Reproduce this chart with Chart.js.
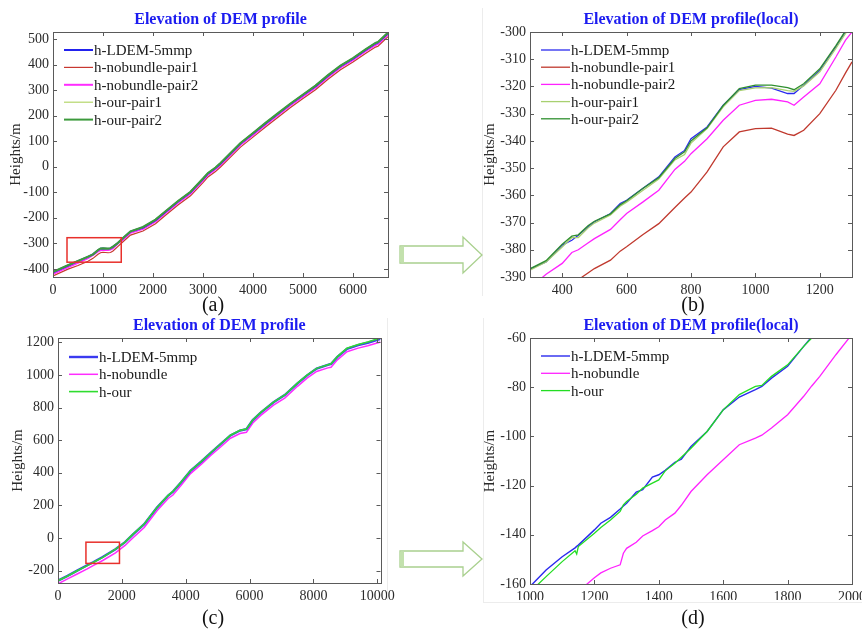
<!DOCTYPE html>
<html>
<head>
<meta charset="utf-8">
<script src="https://cdn.jsdelivr.net/npm/chart.js@4.4.1/dist/chart.umd.min.js"></script>
<style>
  body { margin: 0; width: 862px; height: 629px; overflow: hidden; background: #fff; position: relative;
         font-family: "Liberation Serif", "Times New Roman", serif; }
  canvas { position: absolute; }
  .lab { position: absolute; font-size: 20px; color: #111; transform: translate(-50%, -50%); }
  .edge { position: absolute; background: #ececec; }
</style>
</head>
<body>
<canvas id="chartA" width="400" height="300" style="left:0;top:0"></canvas>
<canvas id="chartB" width="400" height="300" style="left:470px;top:0"></canvas>
<canvas id="chartC" width="400" height="300" style="left:0;top:300px"></canvas>
<canvas id="chartD" width="410" height="300" style="left:470px;top:300px"></canvas>

<div class="edge" style="left:482px;top:8px;width:1px;height:288px"></div>
<div class="edge" style="left:483px;top:318px;width:1px;height:284px"></div>
<div class="edge" style="left:483px;top:602px;width:379px;height:1px"></div>
<div class="edge" style="left:387px;top:318px;width:1px;height:282px"></div>

<div class="lab" style="left:213px;top:304px">(a)</div>
<div class="lab" style="left:693px;top:304px">(b)</div>
<div class="lab" style="left:213px;top:617px">(c)</div>
<div class="lab" style="left:693px;top:617px">(d)</div>

<svg width="862" height="629" style="position:absolute;left:0;top:0">
  <polygon points="400,246 463,246 463,237 482,255 463,273 463,263 400,263" fill="#fff" stroke="#a9d08e" stroke-width="1.3"/>
  <rect x="400" y="246.5" width="4" height="16" fill="#c3e1ad"/>
  <polygon points="400,551 463,551 463,542 482,559 463,576 463,567 400,567" fill="#fff" stroke="#a9d08e" stroke-width="1.3"/>
  <rect x="400" y="551.5" width="4" height="15" fill="#c3e1ad"/>
</svg>

<script>
// ---- (a) whole profile, pair data ----
const aX     = [0, 300, 500, 700, 800, 900, 950, 1000, 1100, 1150, 1200, 1300, 1400, 1550, 1800, 2050, 2250, 2500, 2750, 3000, 3100, 3250, 3350, 3550, 3750, 4000, 4250, 4500, 4750, 5000, 5250, 5500, 5750, 6000, 6250, 6450, 6500, 6700];
const aLdem  = [-414, -387, -370, -353, -343, -327, -321, -320, -322, -320, -314, -299, -280, -254, -238, -209, -176, -136, -100, -48, -26, -5, 13, 52, 91, 130, 170, 208, 246, 281, 316, 357, 394, 424, 458, 483, 487, 524];
const aNob1  = [-428, -401, -387, -370, -359, -343, -337, -335, -337, -336, -330, -312, -294, -268, -252, -223, -190, -150, -114, -62, -40, -19, -1, 38, 77, 116, 156, 194, 232, 267, 302, 343, 380, 410, 444, 469, 472, 510];
const aNob2  = [-420, -393, -376, -358, -345, -332, -327, -325, -326, -324, -319, -300, -285, -259, -243, -214, -181, -141, -105, -53, -31, -10, 8, 47, 86, 125, 165, 203, 241, 276, 311, 352, 389, 419, 453, 477, 481, 519];
const aOur1  = [-413, -386, -370, -353, -344, -327, -321, -320.5, -321.5, -320, -314, -299, -280, -254, -237, -208, -175, -135, -99, -47, -25, -4, 14, 53, 92, 131, 171, 209, 247, 282, 317, 358, 395, 425, 459, 484, 488, 525];
const aOur2  = [-412, -386, -369, -352, -343, -326, -320, -319.5, -320.5, -319, -313, -298, -279, -253, -236, -207, -174, -134, -98, -46, -24, -3, 15, 54, 93, 132, 172, 210, 248, 283, 318, 359, 396, 426, 460, 485, 489, 526];
const aXTicks = [0, 1000, 2000, 3000, 4000, 5000, 6000];
const aYTicks = [-400, -300, -200, -100, 0, 100, 200, 300, 400, 500];
const aZoomBox = [280, 1365, -374, -278];

// ---- (b) local part of (a) ----
const bX     = [300, 350, 400, 430, 450, 480, 500, 550, 580, 600, 650, 700, 750, 780, 800, 850, 900, 950, 1000, 1050, 1100, 1120, 1150, 1200, 1250, 1280, 1300];
const bLdem  = [-387, -384.5, -378.3, -376.5, -374.7, -371.6, -369.8, -366.7, -363, -361.8, -357.5, -353.2, -345.9, -343.5, -339.2, -334.9, -326.9, -321.2, -320, -320.6, -322.6, -322.6, -319.6, -314.1, -305.5, -300, -297];
const bNob1  = [-401, -398, -395, -392.5, -391, -388.5, -386.9, -383.8, -380.5, -378.9, -374.5, -370.4, -364.5, -361, -358.8, -351.4, -342.2, -336.7, -335.5, -335.3, -337.5, -338, -336.1, -330, -321.4, -315, -311];
const bNob2  = [-394, -389, -385, -381, -380, -377.5, -375.9, -372.5, -369, -366.7, -362.5, -358.1, -350.5, -347.5, -344.7, -339.2, -332.4, -326.9, -325.1, -324.7, -325.7, -326.9, -323.9, -319, -309.2, -303, -300];
const bOur1  = [-387.5, -384.5, -379, -375.5, -375.5, -372, -370.2, -367.2, -364, -362.5, -358.2, -354, -347, -345, -340.8, -335.5, -327.5, -321.5, -320.5, -320.4, -321.5, -321.8, -319.8, -314.6, -306, -300.5, -297.5];
const bOur2  = [-387, -384, -378, -375, -374.5, -371.2, -369.5, -366.8, -363.5, -362, -357.5, -353.5, -346.5, -344, -340, -335.2, -327, -320.8, -319.5, -319.5, -320.4, -321.2, -319, -313.5, -305, -299.5, -296.5];
const bXTicks = [400, 600, 800, 1000, 1200];
const bYTicks = [-390, -380, -370, -360, -350, -340, -330, -320, -310, -300];

// ---- (c) whole profile, single strip ----
const cX     = [0, 300, 600, 900, 1100, 1400, 1800, 2100, 2350, 2700, 3100, 3450, 3600, 3850, 4150, 4500, 4800, 5100, 5400, 5700, 5900, 6100, 6350, 6750, 7100, 7500, 7800, 8100, 8450, 8550, 8750, 9050, 9400, 9700, 10100];
const cLdem  = [-260, -231, -199, -168, -148, -116, -68, -25, 23, 85, 187, 261, 285, 341, 412, 471, 525, 577, 629, 659, 667, 723, 769, 832, 876, 948, 997, 1039, 1061, 1067, 1110, 1160, 1182, 1197, 1221];
const cNob   = [-280, -250, -220, -190, -168, -137, -90, -45, 2, 65, 168, 243, 264, 322, 395, 455, 509, 560, 612, 641, 648, 705, 752, 815, 858, 930, 980, 1021, 1043, 1047, 1092, 1142, 1164, 1178, 1201];
const cOur   = [-261, -232, -200, -170, -149, -118, -67, -24, 24, 86, 188, 262, 286, 342, 413, 472, 526, 578, 630, 660, 668, 724, 770, 833, 877, 949, 998, 1040, 1062, 1068, 1112, 1163, 1186, 1201, 1226];
const cXTicks = [0, 2000, 4000, 6000, 8000, 10000];
const cYTicks = [-200, 0, 200, 400, 600, 800, 1000, 1200];
const cZoomBox = [875, 1925, -155, -25];

// ---- (d) local part of (c) ----
const dX     = [1000, 1010, 1050, 1100, 1140, 1145, 1150, 1200, 1220, 1250, 1280, 1290, 1300, 1330, 1350, 1380, 1400, 1420, 1450, 1470, 1500, 1550, 1600, 1650, 1700, 1720, 1750, 1800, 1850, 1875, 1900, 1950, 2000];
const dLdem  = [-161, -159.7, -154.3, -148.9, -145.3, -144.7, -144.2, -138, -135.3, -132.9, -129.5, -128.3, -127.2, -122.6, -121.7, -116.5, -115.6, -113.8, -110.5, -109.3, -104.1, -98, -89.2, -84, -81, -79.7, -76.3, -71.5, -63.4, -59.5, -56, -48, -40];
const dNob   = [-180, -178.5, -173, -168, -164, -163.5, -163, -157.5, -155.5, -153.6, -152.2, -147.5, -145.5, -143, -140.5, -138.3, -136.7, -134, -131.2, -128, -122.4, -115.6, -109.5, -103.4, -100.7, -99.5, -96.6, -91.2, -83.7, -79.5, -75.6, -66.8, -58.5];
const dOur   = [-163, -162, -157, -150.9, -146.5, -147.8, -144.8, -139.4, -137, -134, -130.5, -127.8, -126.5, -123.5, -121, -119, -117.7, -114, -110.9, -108.5, -104.8, -98, -89.2, -83, -79.7, -79.3, -75.6, -70.9, -63.4, -60, -56.5, -48.5, -40.5];
const dXTicks = [1000, 1200, 1400, 1600, 1800, 2000];
const dYTicks = [-160, -140, -120, -100, -80, -60];

const TEXT = '#2b2b2b';
Chart.defaults.font.family = '"Liberation Serif", "Times New Roman", serif';
Chart.defaults.color = TEXT;

// box, inward ticks, title, legend and zoom box
const deco = {
    id: 'deco',
    afterDraw(chart, args, opts) {
        const ctx = chart.ctx;
        const a = chart.chartArea;
        const xs = chart.scales.x, ys = chart.scales.y;
        ctx.save();
        ctx.strokeStyle = '#5a5a5a';
        ctx.lineWidth = 1;
        ctx.strokeRect(Math.round(a.left) + 0.5, Math.round(a.top) + 0.5, Math.round(a.right - a.left), Math.round(a.bottom - a.top));
        ctx.beginPath();
        xs.ticks.forEach(t => {
            const p = Math.round(xs.getPixelForValue(t.value)) + 0.5;
            ctx.moveTo(p, a.bottom); ctx.lineTo(p, a.bottom - 4);
            ctx.moveTo(p, a.top); ctx.lineTo(p, a.top + 4);
        });
        ys.ticks.forEach(t => {
            const p = Math.round(ys.getPixelForValue(t.value)) + 0.5;
            ctx.moveTo(a.left, p); ctx.lineTo(a.left + 4, p);
            ctx.moveTo(a.right, p); ctx.lineTo(a.right - 4, p);
        });
        ctx.stroke();

        if (opts.box) {
            const [x0, x1, y0, y1] = opts.box;
            const px0 = xs.getPixelForValue(x0), px1 = xs.getPixelForValue(x1);
            const py0 = ys.getPixelForValue(y0), py1 = ys.getPixelForValue(y1);
            ctx.strokeStyle = '#e8302b';
            ctx.lineWidth = 1.5;
            ctx.strokeRect(px0, py1, px1 - px0, py0 - py1);
        }

        // title
        ctx.fillStyle = '#1c1cf0';
        ctx.font = 'bold 16px "Liberation Serif"';
        ctx.textAlign = 'center';
        ctx.textBaseline = 'middle';
        ctx.fillText(opts.title, (a.left + a.right) / 2, a.top - 12);

        // legend
        ctx.font = '15px "Liberation Serif"';
        ctx.textAlign = 'left';
        ctx.fillStyle = '#1a1a1a';
        chart.data.datasets.forEach((ds, i) => {
            const y = a.top + opts.legendTop + i * opts.legendStep;
            ctx.strokeStyle = ds.borderColor;
            ctx.lineWidth = ds.borderWidth;
            ctx.beginPath();
            ctx.moveTo(a.left + 11, y);
            ctx.lineTo(a.left + 40, y);
            ctx.stroke();
            ctx.fillText(ds.label, a.left + 41, y + 1);
        });
        ctx.restore();
    }
};

function series(label, xs, ys, color, width, order) {
    return {
        label: label,
        data: xs.map((x, i) => ({ x: x, y: ys[i] })),
        borderColor: color,
        borderWidth: width,
        pointRadius: 0,
        tension: 0,
        order: order
    };
}

function scales(xMin, xMax, xTicks, yMin, yMax, yTicks, yWidth, xHeight, titlePad) {
    const tickFont = { size: 14 };
    return {
        x: {
            type: 'linear', min: xMin, max: xMax,
            ticks: { padding: 5, maxRotation: 0, autoSkip: false,
                     font: tickFont, color: TEXT, callback: v => String(v) },
            grid: { display: false, drawTicks: false },
            border: { display: false },
            afterBuildTicks: s => { s.ticks = xTicks.map(v => ({ value: v })); },
            afterFit: s => { s.height = xHeight; }
        },
        y: {
            type: 'linear', min: yMin, max: yMax,
            ticks: { padding: 4, autoSkip: false,
                     font: tickFont, color: TEXT, callback: v => String(v) },
            grid: { display: false, drawTicks: false },
            border: { display: false },
            title: { display: true, text: 'Heights/m', font: { size: 15 }, color: TEXT, padding: { top: titlePad, bottom: 0 } },
            afterBuildTicks: s => { s.ticks = yTicks.map(v => ({ value: v })); },
            afterFit: s => { s.width = yWidth; }
        }
    };
}

function createChart(id, datasets, axes, padding, deco_opts) {
    const ctx = document.getElementById(id).getContext('2d');
    return new Chart(ctx, {
        type: 'line',
        data: { datasets: datasets },
        options: {
            responsive: false,
            animation: false,
            devicePixelRatio: 1,
            layout: { padding: padding },
            scales: axes,
            plugins: { legend: { display: false }, tooltip: { enabled: false }, deco: deco_opts }
        },
        plugins: [deco]
    });
}

createChart('chartA', [
    series('h-LDEM-5mmp', aX, aLdem, '#2222ee', 2, 2),
    series('h-nobundle-pair1', aX, aNob1, '#c8372f', 1.2, 4),
    series('h-nobundle-pair2', aX, aNob2, '#ff2cff', 2, 3),
    series('h-our-pair1', aX, aOur1, '#b4d66a', 1.2, 1),
    series('h-our-pair2', aX, aOur2, '#3c9a3c', 2, 0)
], scales(0, 6700, aXTicks, -432, 528, aYTicks, 53, 23, 7), { top: 32, right: 12, bottom: 0, left: 0 },
   { title: 'Elevation of DEM profile', legendTop: 18, legendStep: 17.4, box: aZoomBox });

createChart('chartB', [
    series('h-LDEM-5mmp', bX, bLdem, '#2a2aee', 1.3, 2),
    series('h-nobundle-pair1', bX, bNob1, '#c0392e', 1.3, 4),
    series('h-nobundle-pair2', bX, bNob2, '#ff22ff', 1.3, 3),
    series('h-our-pair1', bX, bOur1, '#a8d070', 1.3, 1),
    series('h-our-pair2', bX, bOur2, '#2f8f2f', 1.3, 0)
], scales(300, 1300, bXTicks, -390, -300, bYTicks, 60, 23, 11), { top: 32, right: 18, bottom: 0, left: 0 },
   { title: 'Elevation of DEM profile(local)', legendTop: 18, legendStep: 17.2 });

createChart('chartC', [
    series('h-LDEM-5mmp', cX, cLdem, '#3a3af0', 2.4, 1),
    series('h-nobundle', cX, cNob, '#ff2cff', 1.5, 2),
    series('h-our', cX, cOur, '#2fdc2f', 1.6, 0)
], scales(0, 10100, cXTicks, -275, 1226, cYTicks, 58, 17, 9), { top: 38, right: 18, bottom: 0, left: 0 },
   { title: 'Elevation of DEM profile', legendTop: 19, legendStep: 17.3, box: cZoomBox });

createChart('chartD', [
    series('h-LDEM-5mmp', dX, dLdem, '#2a2aee', 1.4, 1),
    series('h-nobundle', dX, dNob, '#ff22ff', 1.3, 2),
    series('h-our', dX, dOur, '#22dd22', 1.3, 0)
], scales(1000, 2000, dXTicks, -160, -60, dYTicks, 60, 16, 11), { top: 38, right: 28, bottom: 0, left: 0 },
   { title: 'Elevation of DEM profile(local)', legendTop: 18, legendStep: 17.3 });
</script>
</body>
</html>
